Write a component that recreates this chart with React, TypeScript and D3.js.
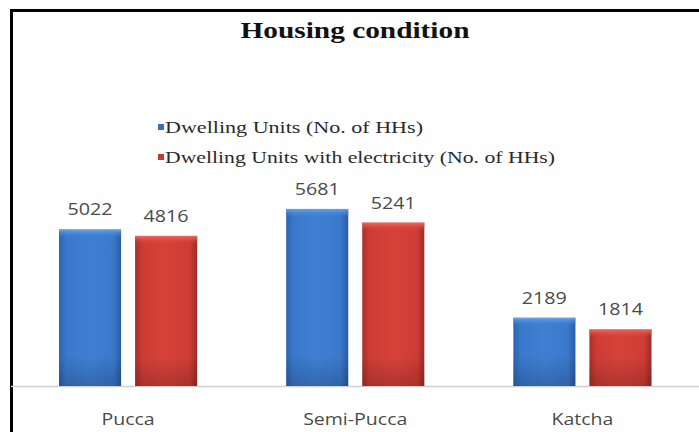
import React from "react";
import * as d3 from "d3";

const categories = ["Pucca", "Semi-Pucca", "Katcha"];
const seriesNames = ["Dwelling Units (No. of HHs)", "Dwelling Units with electricity (No. of HHs)"];
const dwellingUnits = [5022, 5681, 2189];
const withElectricity = [4816, 5241, 1814];
const title = "Housing condition";

const W = 699;
const H = 432;

export default function App() {
  const x0 = d3.scaleBand<string>().domain(categories).range([14.5, 696]).paddingInner(0).paddingOuter(0);
  const x1 = d3.scaleBand<number>().domain([0, 1]).range([0, x0.bandwidth()]).paddingInner(0.184).paddingOuter(0.585);
  const y = d3.scaleLinear().domain([0, 6000]).range([386, 199]);
  const series = [dwellingUnits, withElectricity];
  const grads = ["gBlue", "gRed"];
  const tops = ["gBlueTop", "gRedTop"];

  return (
    <svg width={W} height={H} style={{ position: "absolute", left: 0, top: 0, display: "block" }}>
      <defs>
        <linearGradient id="gBlue" x1="0" x2="1" y1="0" y2="0">
          <stop offset="0" stopColor="#2f63ae" />
          <stop offset="0.12" stopColor="#3a78cb" />
          <stop offset="0.5" stopColor="#3f7fd2" />
          <stop offset="0.88" stopColor="#3a78cb" />
          <stop offset="1" stopColor="#2b5ba2" />
        </linearGradient>
        <linearGradient id="gRed" x1="0" x2="1" y1="0" y2="0">
          <stop offset="0" stopColor="#a8302b" />
          <stop offset="0.12" stopColor="#cf3c35" />
          <stop offset="0.5" stopColor="#d6423a" />
          <stop offset="0.88" stopColor="#cf3c35" />
          <stop offset="1" stopColor="#9e2b27" />
        </linearGradient>
        <linearGradient id="gBlueTop" x1="0" x2="0" y1="0" y2="1">
          <stop offset="0" stopColor="#6aa6ea" />
          <stop offset="1" stopColor="#3f7fd2" stopOpacity="0" />
        </linearGradient>
        <linearGradient id="gRedTop" x1="0" x2="0" y1="0" y2="1">
          <stop offset="0" stopColor="#ee6a60" />
          <stop offset="1" stopColor="#d6423a" stopOpacity="0" />
        </linearGradient>
        <linearGradient id="gBottomShade" x1="0" x2="0" y1="0" y2="1">
          <stop offset="0" stopColor="#000" stopOpacity="0" />
          <stop offset="1" stopColor="#000" stopOpacity="0.18" />
        </linearGradient>
      </defs>
      <rect x={0} y={0} width={W} height={H} fill="#ffffff" />
      <rect x={11.5} y={10.5} width={720} height={460} fill="none" stroke="#000" strokeWidth={3} />

      <text
        x={355}
        y={38}
        textAnchor="middle"
        fontFamily="'Liberation Serif', serif"
        fontWeight="bold"
        fontSize={23}
        textLength={229}
        lengthAdjust="spacingAndGlyphs"
        fill="#111"
      >
        {title}
      </text>

      {seriesNames.map((name, i) => (
        <g key={name}>
          <rect x={158} y={124 + i * 30} width={6} height={6} fill={i === 0 ? "#3a6fc0" : "#c23a35"} />
          <text
            x={165}
            y={133 + i * 30}
            fontFamily="'Liberation Serif', serif"
            fontSize={17}
            textLength={i === 0 ? 258 : 390}
            lengthAdjust="spacingAndGlyphs"
            fill="#2a2a2a"
          >
            {name}
          </text>
        </g>
      ))}

      <line x1={11} x2={699} y1={386.5} y2={386.5} stroke="#cfcfcf" strokeWidth={1.5} />

      {categories.map((c, ci) => (
        <g key={c} transform={`translate(${x0(c)},0)`}>
          {series.map((vals, si) => {
            const bx = x1(si) as number;
            const bw = x1.bandwidth();
            const top = y(vals[ci]);
            const h = y(0) - top;
            return (
              <g key={si}>
                <rect x={bx} y={top} width={bw} height={h} fill={`url(#${grads[si]})`} />
                <rect x={bx} y={top} width={bw} height={Math.min(8, h)} fill={`url(#${tops[si]})`} />
                <rect x={bx} y={y(0) - Math.min(30, h)} width={bw} height={Math.min(30, h)} fill="url(#gBottomShade)" />
                <text
                  x={bx + bw / 2}
                  y={top - 14}
                  textAnchor="middle"
                  fontFamily="'Open Sans', sans-serif"
                  fontSize={16}
                  textLength={45}
                  lengthAdjust="spacingAndGlyphs"
                  fill="#4a4a4a"
                >
                  {vals[ci]}
                </text>
              </g>
            );
          })}
          <text
            transform={`translate(${x0.bandwidth() / 2},425) scale(1.15,1)`}
            textAnchor="middle"
            fontFamily="'Open Sans', sans-serif"
            fontSize={17}
            fill="#4a4a4a"
          >
            {c}
          </text>
        </g>
      ))}
    </svg>
  );
}
